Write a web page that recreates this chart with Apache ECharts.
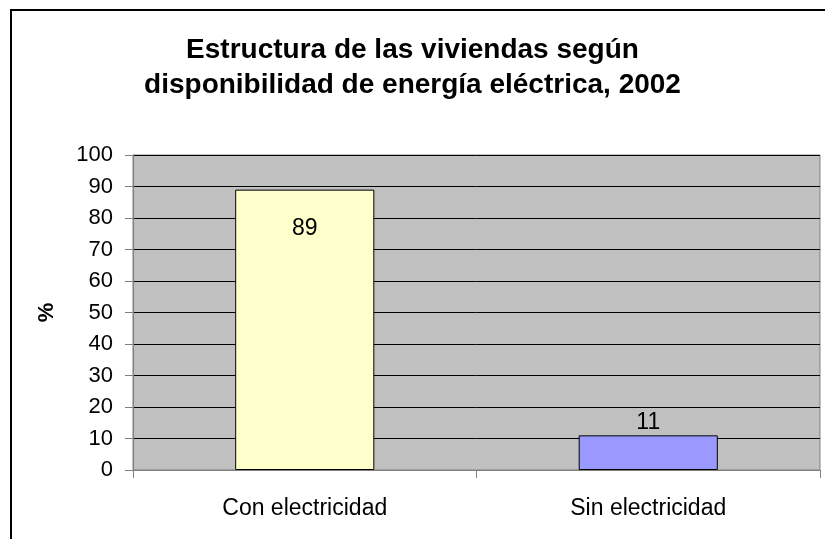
<!DOCTYPE html>
<html>
<head>
<meta charset="utf-8">
<script src="https://cdn.jsdelivr.net/npm/echarts@6/dist/echarts.min.js"></script>
<style>html,body{margin:0;padding:0;background:#fff;}#c{width:825px;height:539px;}</style>
</head>
<body>
<div id="c"></div>
<script>
const categories = ['Con electricidad', 'Sin electricidad'];
const values = [89, 11];
const barColors = ['#FFFFCC', '#9999FF'];
const titleLines = ['Estructura de las viviendas según', 'disponibilidad de energía eléctrica, 2002'];

const chart = echarts.init(document.getElementById('c'));
chart.setOption({
  animation: false,
  backgroundColor: '#ffffff',
  textStyle: { fontFamily: 'Liberation Sans, Arial, sans-serif' },
  graphic: [{
    type: 'rect', shape: { x: 11, y: 10, width: 830, height: 560 },
    style: { fill: 'none', stroke: '#000', lineWidth: 2 }, z: -10
  }],
  title: {
    text: titleLines.join('\n'),
    left: 'center', top: 28,
    textStyle: { fontSize: 28, fontWeight: 'bold', color: '#000', lineHeight: 35, fontFamily: 'Liberation Sans, Arial, sans-serif' }
  },
  grid: {
    left: 133, right: 5, top: 155, bottom: 69,
    show: true, backgroundColor: '#C0C0C0', borderColor: '#808080', borderWidth: 1
  },
  xAxis: {
    type: 'category', data: categories,
    axisLine: { lineStyle: { color: '#808080', width: 1 } },
    axisTick: { show: true, length: 8, alignWithLabel: false, lineStyle: { color: '#808080' } },
    axisLabel: { color: '#000', fontSize: 23, margin: 27 }
  },
  yAxis: {
    type: 'value', min: 0, max: 100, interval: 10,
    name: '%', nameLocation: 'middle', nameGap: 75, nameRotate: 90,
    nameTextStyle: { fontSize: 22, fontWeight: 'bold', color: '#000' },
    axisLine: { show: true, lineStyle: { color: '#808080' } },
    axisTick: { show: true, length: 8, lineStyle: { color: '#808080' } },
    axisLabel: { color: '#000', fontSize: 22, margin: 20 },
    splitLine: { show: true, lineStyle: { color: '#000', width: 1 } }
  },
  series: [{
    type: 'bar', barWidth: '40.5%',
    data: values.map((v, i) => ({
      value: v,
      itemStyle: { color: barColors[i], borderColor: '#000', borderWidth: 1 },
      label: i === 0 ? { show: true, position: 'insideTop', distance: 28 } : { show: true, position: 'top', distance: 1 }
    })),
    label: { color: '#000', fontSize: 23 }
  }]
});
</script>
</body>
</html>
